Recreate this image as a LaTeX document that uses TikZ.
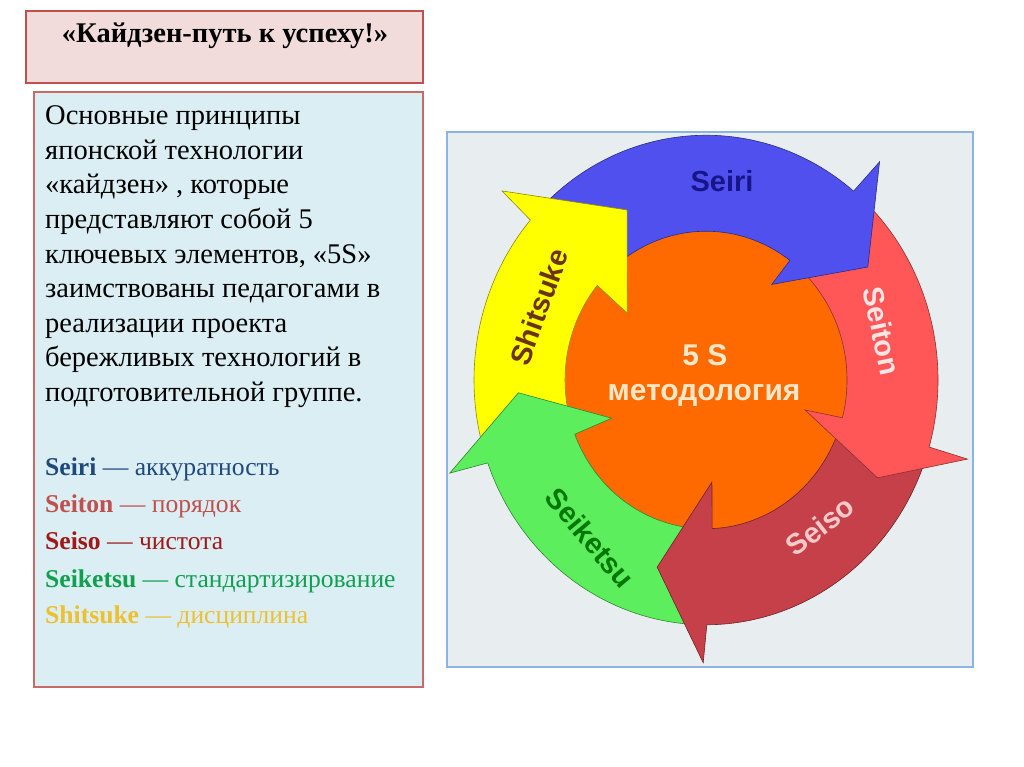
\documentclass[tikz,border=0pt]{standalone}
\usepackage{fontspec}
\setmainfont{Liberation Serif}
\newfontfamily\lsans{Liberation Sans}
\usetikzlibrary{calc}
\definecolor{titlefill}{HTML}{F2DCDB}
\definecolor{boxred}{HTML}{C0504D}
\definecolor{textfill}{HTML}{DAEEF3}
\definecolor{diagbg}{HTML}{E8EEF0}
\definecolor{diagborder}{HTML}{8DB3E2}
\definecolor{cblue}{HTML}{5050EE}
\definecolor{cred}{HTML}{FF5757}
\definecolor{cdred}{HTML}{C6404A}
\definecolor{cgreen}{HTML}{5CEE5C}
\definecolor{cyellow}{HTML}{FFFF00}
\definecolor{corange}{HTML}{FF6A00}
\definecolor{tseiri}{HTML}{1F497D}
\definecolor{tseiton}{HTML}{C0504D}
\definecolor{tseiso}{HTML}{A01818}
\definecolor{tseiketsu}{HTML}{10A050}
\definecolor{tshitsuke}{HTML}{EEC030}
\definecolor{lseiri}{HTML}{16168A}
\definecolor{lseiton}{HTML}{FFE6E6}
\definecolor{lseiso}{HTML}{F7C9C9}
\definecolor{lseiketsu}{HTML}{007800}
\definecolor{lshitsuke}{HTML}{6A3300}
\definecolor{lcenter}{HTML}{FFE8C8}
\newcommand\myshaft[4]{%
  \filldraw[fill=#1, draw=#1!55!black, line width=0.6pt]
    (#2:232) arc[start angle=#2, end angle=#3, radius=232]
    -- (#4:141) arc[start angle=#4, end angle=#2, radius=141] -- cycle;}
\newcommand\myhead[6]{%
  \fill[#1] (#2:232) -- (#3) -- (#4) -- (#5) -- (#6:141) -- cycle;
  \draw[#1!55!black, line width=0.6pt] (#2:232) -- (#3) -- (#4) -- (#5) -- (#6:141);}
\tikzset{
  para/.style={anchor=base west, inner sep=0pt, font=\fontsize{28.5}{32}\selectfont},
  listline/.style={anchor=base west, inner sep=0pt, font=\fontsize{25.6}{29}\selectfont},
  lbl/.style={font=\lsans\bfseries\fontsize{29}{32}\selectfont, inner sep=0pt},
  ctr/.style={font=\lsans\bfseries\fontsize{30}{32}\selectfont, inner sep=0pt, text=lcenter}
}
\begin{document}
\begin{tikzpicture}[x=1pt,y=-1pt]
\useasboundingbox (0,0) rectangle (1024,767);
\fill[white] (0,0) rectangle (1024,767);
% boxes
\draw[fill=titlefill, draw=boxred, line width=1.4pt] (26,11) rectangle (423,83);
\draw[fill=textfill, draw=boxred!85!white, line width=1.1pt] (34,92) rectangle (423,687);
\draw[fill=diagbg, draw=diagborder, line width=1.1pt] (447,132) rectangle (973,667);
% title
\node[anchor=base, inner sep=0pt, font=\fontsize{28.5}{32}\selectfont\bfseries] (title) at (225,43) {«Кайдзен-путь к успеху!»};
% paragraph
\foreach \t [count=\i from 0] in {{Основные принципы},{японской технологии},{«кайдзен» , которые},{представляют собой 5},{ключевых элементов, «5S»},{заимствованы педагогами в},{реализации проекта},{бережливых технологий в},{подготовительной группе.}}
  \node[para] (p\i) at (45,{125+34.5*\i}) {\t};
% list
\node[listline, text=tseiri] (l1) at (45,475.3) {\textbf{Seiri} — аккуратность};
\node[listline, text=tseiton] (l2) at (45,512.5) {\textbf{Seiton} — порядок};
\node[listline, text=tseiso] (l3) at (45,549.7) {\textbf{Seiso} — чистота};
\node[listline, text=tseiketsu] (l4) at (45,587) {\textbf{Seiketsu} — стандартизирование};
\node[listline, text=tshitsuke] (l5) at (45,623.7) {\textbf{Shitsuke} — дисциплина};
% diagram
\begin{scope}[shift={(706,380)}, yscale=1.055]
  \fill[corange] (0,0) circle[radius=146];
  \myshaft{cyellow}{163.5}{223.8}{222.5}
  \myshaft{cblue}{224}{312.5}{309.5}
  \myshaft{cred}{-46}{18.9}{17.7}
  \myshaft{cdred}{19}{92.8}{90.5}
  \myshaft{cgreen}{92}{163.2}{161.6}
  \myhead{cblue}{309.5}{310:270}{326.5:194}{306:112}{306.5}
  \myhead{cred}{15.9}{16:272}{28.4:195}{16:103}{14.7}
  \myhead{cdred}{89.8}{90.6:268}{105.4:184}{86.5:97}{87.5}
  \myhead{cgreen}{160.2}{161:271}{176.3:188}{159:101}{158.6}
  \myhead{cyellow}{220.8}{221.3:271.5}{243.9:179.5}{218.8:101}{219.5}
\end{scope}
\node[lbl, text=lseiri] (seiri) at (722,181) {Seiri};
\node[lbl, text=lseiton, rotate=-78] (seiton) at (882,331) {Seiton};
\node[lbl, text=lseiso, rotate=38] (seiso) at (820,526) {Seiso};
\node[lbl, text=lseiketsu, rotate=-50] (seiketsu) at (590,538) {Seiketsu};
\node[lbl, text=lshitsuke, rotate=70] (shitsuke) at (539,307) {Shitsuke};
\node[ctr] (c1) at (705,355) {5 S};
\node[ctr] (c2) at (704,395) {методология};
\end{tikzpicture}
\end{document}
